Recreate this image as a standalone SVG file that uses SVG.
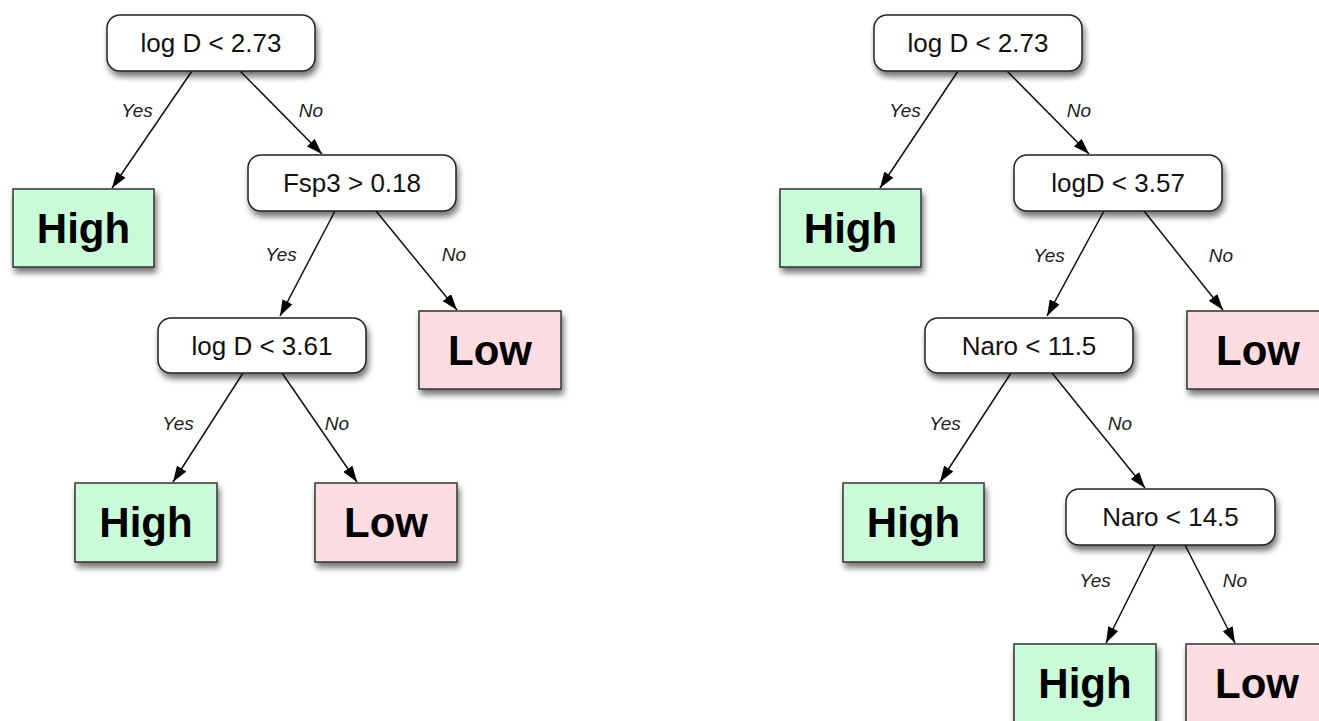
<svg xmlns="http://www.w3.org/2000/svg" width="1319" height="721" viewBox="0 0 1319 721">
<defs>
<filter id="sh" x="-20%" y="-20%" width="140%" height="160%">
<feGaussianBlur in="SourceAlpha" stdDeviation="3"/>
<feOffset dx="2" dy="5" result="b"/>
<feComponentTransfer><feFuncA type="linear" slope="0.55"/></feComponentTransfer>
<feMerge><feMergeNode/><feMergeNode in="SourceGraphic"/></feMerge>
</filter>
<marker id="ah" viewBox="0 0 16 11" refX="16" refY="5.5" markerWidth="16" markerHeight="11" markerUnits="userSpaceOnUse" orient="auto">
<path d="M0,0 L16,5.5 L0,11 z" fill="#000"/>
</marker>
</defs>
<style>
.dec rect{fill:#fff;stroke:#222;stroke-width:1.5}
.hi rect{fill:#c9fbd9;stroke:#333;stroke-width:1.5}
.lo rect{fill:#fedde2;stroke:#333;stroke-width:1.5}
.dec text{font-family:"Liberation Sans",Arial,sans-serif;font-size:26px;fill:#111;text-anchor:middle}
.hi text,.lo text{font-family:"Liberation Sans",Arial,sans-serif;font-size:42px;font-weight:bold;fill:#000;text-anchor:middle}
.edges line{stroke:#111;stroke-width:1.5;marker-end:url(#ah)}
.lab text{font-family:"Liberation Sans",Arial,sans-serif;font-size:19px;font-style:italic;fill:#222;text-anchor:middle}
</style>
<rect width="1319" height="721" fill="#fff"/>
<g id="edges" class="edges">
<line x1="192" y1="71" x2="112" y2="188"/>
<line x1="240" y1="71" x2="322" y2="154"/>
<line x1="335" y1="211" x2="280" y2="316"/>
<line x1="376" y1="211" x2="457" y2="310"/>
<line x1="243" y1="373" x2="173" y2="482"/>
<line x1="282" y1="373" x2="357" y2="482"/>
<line x1="958" y1="71" x2="880" y2="188"/>
<line x1="1007" y1="71" x2="1089" y2="154"/>
<line x1="1104" y1="211" x2="1047" y2="316"/>
<line x1="1144" y1="211" x2="1223" y2="310"/>
<line x1="1011" y1="373" x2="940" y2="482"/>
<line x1="1052" y1="373" x2="1145" y2="488"/>
<line x1="1155" y1="545" x2="1106" y2="643"/>
<line x1="1185" y1="545" x2="1235" y2="643"/>
</g>
<g id="labels" class="lab">
<text x="137" y="117">Yes</text><text x="311" y="117">No</text>
<text x="281" y="261">Yes</text><text x="454" y="261">No</text>
<text x="178" y="430">Yes</text><text x="337" y="430">No</text>
<text x="905" y="117">Yes</text><text x="1079" y="117">No</text>
<text x="1049" y="262">Yes</text><text x="1221" y="262">No</text>
<text x="945" y="430">Yes</text><text x="1120" y="430">No</text>
<text x="1095" y="587">Yes</text><text x="1235" y="587">No</text>
</g>
<g id="L_root" class="dec"><rect x="107" y="15" width="208" height="56" rx="13" filter="url(#sh)"/><text x="211" y="52">log D &lt; 2.73</text></g>
<g id="L_high1" class="hi"><rect x="13" y="189" width="141" height="78" filter="url(#sh)"/><text x="83.5" y="243">High</text></g>
<g id="L_fsp3" class="dec"><rect x="248" y="155" width="208" height="56" rx="13" filter="url(#sh)"/><text x="352" y="192">Fsp3 &gt; 0.18</text></g>
<g id="L_logd361" class="dec"><rect x="158" y="318" width="208" height="55" rx="13" filter="url(#sh)"/><text x="262" y="355">log D &lt; 3.61</text></g>
<g id="L_low1" class="lo"><rect x="419" y="311" width="142" height="78" filter="url(#sh)"/><text x="490" y="365">Low</text></g>
<g id="L_high2" class="hi"><rect x="75" y="483" width="142" height="79" filter="url(#sh)"/><text x="146" y="537">High</text></g>
<g id="L_low2" class="lo"><rect x="315" y="483" width="142" height="79" filter="url(#sh)"/><text x="386" y="537">Low</text></g>
<g id="R_root" class="dec"><rect x="874" y="15" width="208" height="56" rx="13" filter="url(#sh)"/><text x="978" y="52">log D &lt; 2.73</text></g>
<g id="R_high1" class="hi"><rect x="780" y="189" width="141" height="78" filter="url(#sh)"/><text x="850.5" y="243">High</text></g>
<g id="R_logd357" class="dec"><rect x="1014" y="155" width="208" height="56" rx="13" filter="url(#sh)"/><text x="1118" y="192">logD &lt; 3.57</text></g>
<g id="R_low1" class="lo"><rect x="1187" y="311" width="142" height="78" filter="url(#sh)"/><text x="1258" y="365">Low</text></g>
<g id="R_naro115" class="dec"><rect x="925" y="318" width="208" height="55" rx="13" filter="url(#sh)"/><text x="1029" y="355">Naro &lt; 11.5</text></g>
<g id="R_high2" class="hi"><rect x="843" y="483" width="141" height="79" filter="url(#sh)"/><text x="913.5" y="537">High</text></g>
<g id="R_naro145" class="dec"><rect x="1066" y="489" width="209" height="56" rx="13" filter="url(#sh)"/><text x="1170.5" y="526">Naro &lt; 14.5</text></g>
<g id="R_high3" class="hi"><rect x="1014" y="644" width="142" height="79" filter="url(#sh)"/><text x="1085" y="698">High</text></g>
<g id="R_low2" class="lo"><rect x="1186" y="644" width="142" height="79" filter="url(#sh)"/><text x="1257" y="698">Low</text></g>
</svg>
